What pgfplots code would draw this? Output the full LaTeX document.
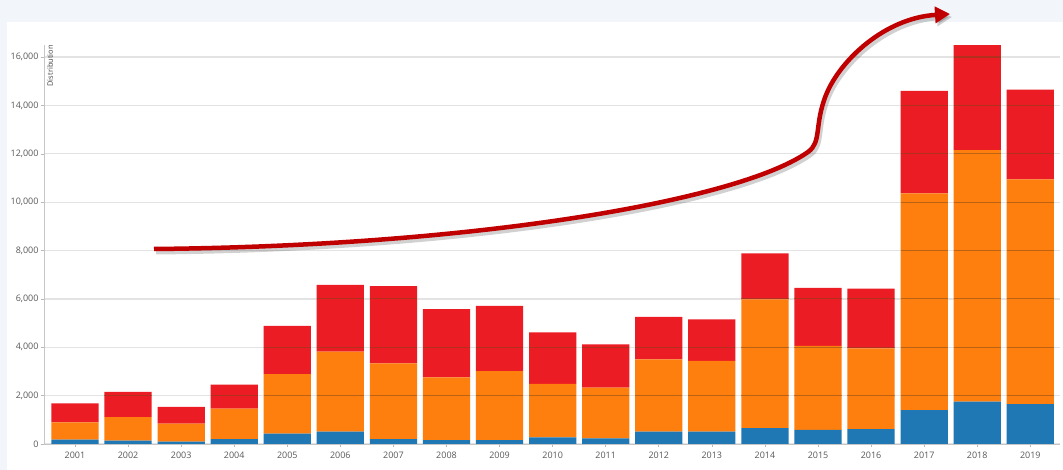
\documentclass[border=0pt]{standalone}
\usepackage{pgfplots}
\pgfplotsset{compat=1.18}
\usepackage{pgfplotstable}
\usepackage{fontspec}
\setmainfont{Open Sans}
\usetikzlibrary{arrows.meta}
\definecolor{bgblue}{HTML}{F2F6FA}
\definecolor{cblue}{HTML}{1F77B4}
\definecolor{corange}{HTML}{FF7F0E}
\definecolor{cred}{HTML}{EC1C24}
\definecolor{arrowred}{HTML}{C00000}
\definecolor{gridbrown}{RGB}{120,70,25}
\definecolor{ticktext}{HTML}{595959}

\pgfplotstableread{
x blue orange red
0 180 715 785
1 140 975 1045
2 100 740 700
3 205 1255 990
4 425 2465 1990
5 510 3305 2765
6 205 3130 3195
7 165 2590 2825
8 165 2850 2700
9 275 2215 2125
10 235 2095 1790
11 510 2990 1760
12 510 2930 1710
13 660 5320 1900
14 580 3480 2400
15 620 3330 2470
16 1405 8955 4240
17 1750 10400 4340
18 1650 9290 3715
}\data

\pgfplotstableread{
x y
1 2000
3 2000
4 2000
5 2000
6 2000
7 2000
8 2000
9 2000
10 2000
11 2000
12 2000
13 2000
14 2000
15 2000
16 2000
17 2000
18 2000
4 4000
5 4000
6 4000
7 4000
8 4000
9 4000
10 4000
11 4000
12 4000
13 4000
14 4000
15 4000
16 4000
17 4000
18 4000
5 6000
6 6000
13 6000
14 6000
15 6000
16 6000
17 6000
18 6000
16 8000
17 8000
18 8000
16 10000
17 10000
18 10000
16 12000
17 12000
18 12000
16 14000
17 14000
18 14000
17 16000
}\gridover

\begin{document}
\begin{tikzpicture}[x=1bp,y=1bp]
\fill[bgblue] (0,0) rectangle (1063,470);
\fill[white] (7,0) rectangle (1063,448);
\begin{axis}[
  at={(44bp,26bp)}, anchor=south west,
  scale only axis, width=1016bp, height=399bp,
  ymin=0, ymax=16500, xmin=-0.584, xmax=18.56,
  ybar stacked, bar width=0.89,
  axis x line=bottom, axis y line=left,
  axis line style={-, draw=gray!45, line width=0.8bp},
  ytick={0,2000,...,16000},
  scaled y ticks=false,
  xtick={0,...,18},
  xticklabels={2001,2002,2003,2004,2005,2006,2007,2008,2009,2010,2011,2012,2013,2014,2015,2016,2017,2018,2019},
  ymajorgrids, grid style={draw=gray!22, line width=1.3bp},
  tick align=outside, major tick length=3.5bp,
  tick style={draw=gray!55, line width=0.6bp},
  ticklabel style={font=\fontsize{9}{10}\selectfont, text=ticktext},
  yticklabel style={xshift=1.5bp},
  xticklabel style={yshift=-0.5bp},
  /pgf/number format/assume math mode=true,
  /pgf/number format/.cd, 1000 sep={,},
]
\addplot[fill=cblue, draw=none] table[x=x, y=blue] {\data};
\addplot[fill=corange, draw=none] table[x=x, y=orange] {\data};
\addplot[fill=cred, draw=none] table[x=x, y=red] {\data};
\end{axis}
\begin{axis}[
  at={(44bp,26bp)}, anchor=south west,
  scale only axis, width=1016bp, height=399bp,
  ymin=0, ymax=16500, xmin=-0.584, xmax=18.56,
  hide axis,
]
\addplot[only marks, mark=-, mark size=23.6bp,
  mark options={draw=gridbrown, draw opacity=0.5, line width=1.2bp}]
  table[x=x, y=y] {\gridover};
\end{axis}
\node[rotate=90, anchor=north east, inner sep=0pt,
  font=\fontsize{7.5}{8}\selectfont, text=black!75] at (47,425) {Distribution};
\def\arrowpath{(154,221) .. controls (480,224) and (740,270) .. (808,318)
  .. controls (822,328) and (814,345) .. (826,375)
  .. controls (840,410) and (885,452) .. (950,456)}
\draw[black, opacity=0.18, line width=5bp, -{Triangle[length=15bp,width=16bp]}, shift={(2,-3)}] \arrowpath;
\draw[arrowred, line width=4.5bp, -{Triangle[length=15bp,width=16bp]}] \arrowpath;
\pgfresetboundingbox
\useasboundingbox (0,0) rectangle (1063,470);
\end{tikzpicture}
\end{document}
